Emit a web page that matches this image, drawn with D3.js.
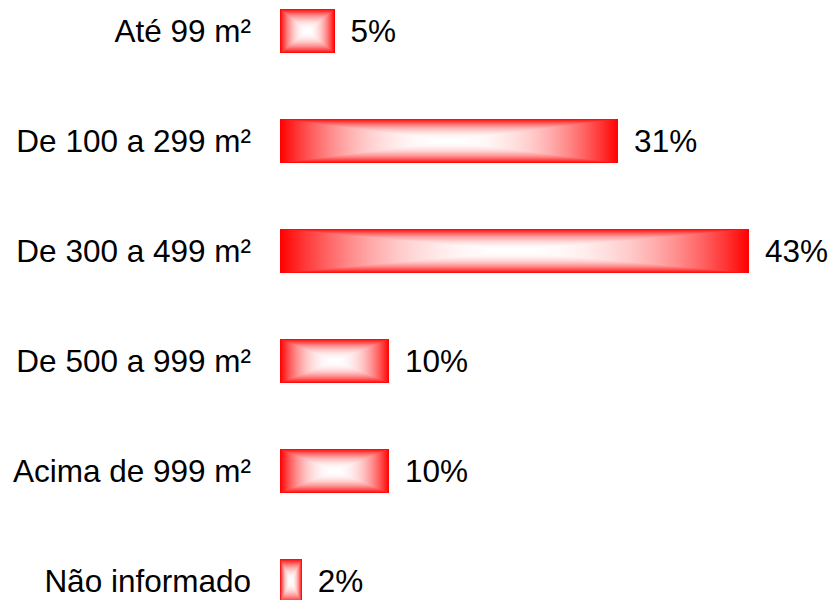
<!DOCTYPE html>
<html>
<head>
<meta charset="utf-8">
<script src="https://cdn.jsdelivr.net/npm/d3@7/dist/d3.min.js"></script>
<style>
  html, body { margin: 0; padding: 0; background: #fff; }
  svg { display: block; }
  text { font-family: "Liberation Sans", Arial, sans-serif; fill: #000; }
</style>
</head>
<body>
<svg id="chart" width="835" height="600"></svg>
<script>
// Área construída – distribuição percentual
const categories = ["Até 99 m²", "De 100 a 299 m²", "De 300 a 499 m²", "De 500 a 999 m²", "Acima de 999 m²", "Não informado"];
const values = [5, 31, 43, 10, 10, 2];
const valueLabels = ["5%", "31%", "43%", "10%", "10%", "2%"];

const svg = d3.select("#chart");

const x = d3.scaleLinear().domain([0, 43]).range([280, 749]);
const y = d3.scaleBand().domain(categories).range([-24, 636]).paddingInner(0.6).paddingOuter(0.3);

// Rectangular "from centre" gradient: four triangles, each with a ramp
// running from its outer edge (red) towards the bar's centre (white).
const defs = svg.append("defs");
const ramps = [
  { id: "g-top",    x1: 0, y1: 0, x2: 0, y2: 1 },
  { id: "g-bottom", x1: 0, y1: 1, x2: 0, y2: 0 },
  { id: "g-left",   x1: 0, y1: 0, x2: 1, y2: 0 },
  { id: "g-right",  x1: 1, y1: 0, x2: 0, y2: 0 }
];
const stopT = d3.range(0, 11).map(i => i / 10);
const whiteMix = t => 1 - Math.pow(1 - t, 2.2);
ramps.forEach(r => {
  const g = defs.append("linearGradient")
    .attr("id", r.id)
    .attr("x1", r.x1).attr("y1", r.y1).attr("x2", r.x2).attr("y2", r.y2);
  stopT.forEach(t => {
    const c = Math.round(255 * whiteMix(t));
    g.append("stop").attr("offset", t).attr("stop-color", `rgb(255,${c},${c})`);
  });
});

const bars = svg.append("g").selectAll("g.bar")
  .data(categories.map((c, i) => ({ c, v: values[i], label: valueLabels[i] })))
  .join("g").attr("class", "bar");

bars.each(function (d) {
  const g = d3.select(this);
  const x0 = x(0), x1 = x(d.v);
  const y0 = y(d.c), y1 = y(d.c) + y.bandwidth();
  const cx = (x0 + x1) / 2, cy = (y0 + y1) / 2;
  const tris = [
    { fill: "g-top",    pts: [[x0, y0], [x1, y0], [cx, cy]] },
    { fill: "g-bottom", pts: [[x0, y1], [x1, y1], [cx, cy]] },
    { fill: "g-left",   pts: [[x0, y0], [x0, y1], [cx, cy]] },
    { fill: "g-right",  pts: [[x1, y0], [x1, y1], [cx, cy]] }
  ];
  g.selectAll("path").data(tris).join("path")
    .attr("d", t => d3.line()(t.pts) + "Z")
    .attr("fill", t => `url(#${t.fill})`)
    .attr("shape-rendering", "crispEdges");
});

// Value labels
bars.append("text")
  .attr("x", d => x(d.v) + 16)
  .attr("y", d => y(d.c) + y.bandwidth() / 2 + 11)
  .attr("font-size", 31.5)
  .text(d => d.label);

// Category labels
svg.append("g").selectAll("text")
  .data(categories)
  .join("text")
  .attr("x", 251)
  .attr("y", d => y(d) + y.bandwidth() / 2 + 11)
  .attr("text-anchor", "end")
  .attr("font-size", 31.5)
  .text(d => d);
</script>
</body>
</html>
